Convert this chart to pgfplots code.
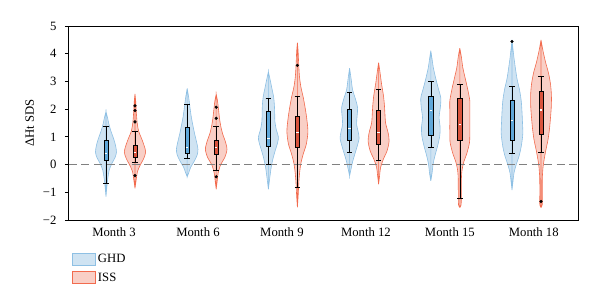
\documentclass[border=0pt]{standalone}
\usepackage{fontspec}
\setmainfont{Liberation Serif}
\usepackage{pgfplots}
\usepackage{pgfplotstable}
\pgfplotsset{compat=1.18}
\usepgfplotslibrary{fillbetween}

\definecolor{ghdfill}{HTML}{CFE3F2}
\definecolor{ghdedge}{HTML}{8EC0E4}
\definecolor{ghdbox}{HTML}{5FA7D9}
\definecolor{issfill}{HTML}{F9CFC6}
\definecolor{issedge}{HTML}{F26B4E}
\definecolor{issbox}{HTML}{D9533C}

% violin profiles: value y, half-width w (in px of the plot)
\pgfplotstableread{
y w
-1.16 0
-0.8 0.9
-0.5 1.8
-0.2 3.2
0.05 6
0.25 9
0.45 10.5
0.7 9.5
0.95 7.5
1.2 5
1.45 3
1.7 1.5
1.91 0
}\gA
\pgfplotstableread{
y w
-0.86 0
-0.55 1.2
-0.25 2.5
0.0 5.5
0.2 8.5
0.45 10.7
0.7 9
0.95 6.5
1.2 3.7
1.5 2.2
1.9 1.3
2.25 0.8
2.55 0
}\iA
\pgfplotstableread{
y w
-0.44 0
-0.3 1.5
-0.1 3.5
0.15 7.5
0.35 10
0.55 10.8
0.8 9.5
1.1 7.5
1.4 5.8
1.7 4.2
2.0 3
2.4 1.6
2.75 0
}\gB
\pgfplotstableread{
y w
-0.89 0
-0.6 1
-0.3 2
0.0 4.5
0.25 8.5
0.55 10.8
0.85 9
1.1 6.5
1.4 4.5
1.7 3.2
2.0 2.3
2.3 1.3
2.54 0
}\iB
\pgfplotstableread{
y w
-0.89 0
-0.5 1.3
-0.1 2.8
0.2 4.5
0.5 6.8
0.8 9.3
1.0 10
1.25 8
1.55 6.5
1.85 6.3
2.15 6
2.45 5.2
2.75 3.5
3.05 1.8
3.35 0
}\gC
\pgfplotstableread{
y w
-1.54 0
-1.1 0.8
-0.6 1.5
-0.2 2.5
0.1 3.8
0.4 6
0.75 9
1.2 10.5
1.7 9.2
2.1 7.5
2.45 5.7
2.8 3.5
3.2 2
3.7 1.2
4.1 0.7
4.4 0
}\iC
\pgfplotstableread{
y w
-0.41 0
-0.15 1.5
0.1 3
0.35 5
0.65 7.5
0.95 9.5
1.2 8.5
1.45 7
1.75 7.5
2.05 8
2.35 6
2.7 3
3.1 1.5
3.48 0
}\gD
\pgfplotstableread{
y w
-0.71 0
-0.4 1
-0.1 2
0.2 4.8
0.5 8.5
0.85 10.5
1.15 9.5
1.5 7
1.85 6.3
2.15 5.8
2.5 4.8
2.9 3
3.3 1.5
3.68 0
}\iD
\pgfplotstableread{
y w
-0.59 0
-0.3 1.3
0.0 2.2
0.3 4
0.7 7
1.05 9
1.35 9.3
1.7 8.3
2.05 9.5
2.4 10
2.75 7.5
3.1 5
3.5 2.5
3.8 1.3
4.11 0
}\gE
\pgfplotstableread{
y w
-1.54 0
-1.45 1.3
-1.0 1.5
-0.5 1.6
-0.2 2.2
0.1 4
0.4 7
0.8 9.7
1.2 10
1.6 10
2.0 10
2.3 10
2.7 8
3.1 5.5
3.5 3
3.9 1.5
4.2 0
}\iE
\pgfplotstableread{
y w
-0.92 0
-0.6 1
-0.3 2
0.0 4.2
0.3 7
0.65 9.2
1.1 10.8
1.5 10.5
1.9 10
2.3 9.2
2.7 7.5
3.1 5
3.5 3.3
3.9 1.8
4.5 0
}\gF
\pgfplotstableread{
y w
-1.54 0
-1.45 1.2
-1.0 1.2
-0.5 1.3
-0.1 2
0.2 3.2
0.5 4.7
0.9 7
1.3 8.5
1.7 9.5
2.1 10.3
2.5 10.4
2.9 9.5
3.3 7.5
3.7 4.5
4.1 2
4.5 0
}\iF

\newcommand{\ws}{0.012315}
% #1 id, #2 centre, #3 profile, #4 fill, #5 edge
\newcommand{\violin}[5]{%
  \addplot[draw=none, smooth, name path=R#1, forget plot]
    table[x expr=#2+\ws*\thisrow{w}, y=y]{#3};
  \addplot[draw=none, smooth, name path=L#1, forget plot]
    table[x expr=#2-\ws*\thisrow{w}, y=y]{#3};
  \addplot[fill=#4, draw=#5, line width=0.6pt, forget plot]
    fill between[of=R#1 and L#1];
}
% #1 position, #2 lower whisker, #3 Q1, #4 median, #5 Q3, #6 upper whisker, #7 colour
\newcommand{\bx}[7]{%
  \pgfmathsetmacro\boxL{#1-0.025}\pgfmathsetmacro\boxR{#1+0.025}%
  \pgfmathsetmacro\capL{#1-0.034}\pgfmathsetmacro\capR{#1+0.034}%
  \pgfmathsetmacro\medL{#1-0.016}\pgfmathsetmacro\medR{#1+0.016}%
  \addplot[forget plot, black, line width=0.6pt] coordinates {(#1,#2) (#1,#3)};
  \addplot[forget plot, black, line width=0.6pt] coordinates {(#1,#5) (#1,#6)};
  \addplot[forget plot, black, line width=0.6pt] coordinates {(\capL,#2) (\capR,#2)};
  \addplot[forget plot, black, line width=0.6pt] coordinates {(\capL,#6) (\capR,#6)};
  \addplot[forget plot, draw=black, fill=#7, line width=0.6pt]
    coordinates {(\boxL,#3) (\boxR,#3) (\boxR,#5) (\boxL,#5) (\boxL,#3)} -- cycle;
  \addplot[forget plot, white, line width=1.2pt] coordinates {(\medL,#4) (\medR,#4)};
}

\begin{document}
\begin{tikzpicture}
\begin{axis}[
  at={(0,0)}, anchor=south west,
  scale only axis, width=509pt, height=194pt,
  xmin=-0.634, xmax=5.634, ymin=-2, ymax=5,
  axis line style={black, line width=1pt},
  xtick={-0.08,0.954,1.988,3.022,4.056,5.09},
  xticklabels={Month 3,Month 6,Month 9,Month 12,Month 15,Month 18},
  xtick style={draw=none},
  ytick={-2,-1,0,1,2,3,4,5},
  yticklabels={−2,−1,0,1,2,3,4,5},
  ytick pos=left, tick align=outside, major tick length=4pt,
  ytick style={black, line width=0.8pt},
  tick label style={font=\fontsize{12.7}{15}\selectfont, black},
  yticklabel style={xshift=-5pt},
  ylabel={ΔHt SDS},
  ylabel style={font=\fontsize{12.7}{15}\selectfont, at={(axis description cs:-0.077,0.5)}, anchor=center},
  legend style={at={(axis description cs:0.0,-0.155)}, anchor=north west,
    draw=none, fill=none, font=\fontsize{12.7}{15}\selectfont, row sep=4.5pt},
  legend cell align=left,
  legend image code/.code={\draw[#1] (0pt,-6.2pt) rectangle (23pt,6.2pt);},
]
\addlegendimage{fill=ghdfill, draw=ghdedge, line width=0.8pt}
\addlegendentry{GHD}
\addlegendimage{fill=issfill, draw=issedge, line width=0.8pt}
\addlegendentry{ISS}

% reference line at zero
\addplot[forget plot, color=gray, line width=1.2pt, dash pattern=on 8pt off 4.5pt]
  coordinates {(-0.634,0) (5.634,0)};

\violin{a}{-0.1786}{\gA}{ghdfill}{ghdedge}
\violin{b}{0.1786}{\iA}{issfill}{issedge}
\violin{c}{0.8214}{\gB}{ghdfill}{ghdedge}
\violin{d}{1.1786}{\iB}{issfill}{issedge}
\violin{e}{1.8214}{\gC}{ghdfill}{ghdedge}
\violin{f}{2.1786}{\iC}{issfill}{issedge}
\violin{g}{2.8214}{\gD}{ghdfill}{ghdedge}
\violin{h}{3.1786}{\iD}{issfill}{issedge}
\violin{i}{3.8214}{\gE}{ghdfill}{ghdedge}
\violin{j}{4.1786}{\iE}{issfill}{issedge}
\violin{k}{4.8214}{\gF}{ghdfill}{ghdedge}
\violin{l}{5.1786}{\iF}{issfill}{issedge}

\bx{-0.1786}{-0.68}{0.17}{0.41}{0.86}{1.39}{ghdbox}
\bx{0.1786}{0.07}{0.27}{0.43}{0.71}{1.19}{issbox}
\bx{0.8214}{0.23}{0.41}{0.61}{1.35}{2.19}{ghdbox}
\bx{1.1786}{-0.19}{0.38}{0.61}{0.89}{1.39}{issbox}
\bx{1.8214}{0.0}{0.65}{0.95}{1.93}{2.39}{ghdbox}
\bx{2.1786}{-0.82}{0.61}{1.17}{1.75}{2.48}{issbox}
\bx{2.8214}{0.45}{0.86}{1.31}{2.0}{2.6}{ghdbox}
\bx{3.1786}{0.17}{0.74}{1.17}{1.95}{2.72}{issbox}
\bx{3.8214}{0.62}{1.04}{1.96}{2.48}{2.99}{ghdbox}
\bx{4.1786}{-1.2}{0.86}{1.45}{2.39}{2.91}{issbox}
\bx{4.8214}{0.41}{0.89}{1.59}{2.31}{2.84}{ghdbox}
\bx{5.1786}{0.43}{1.1}{1.97}{2.63}{3.2}{issbox}

% outliers
\addplot[forget plot, only marks, mark=*, mark size=1.4pt, black]
  coordinates {(0.1786,2.12) (0.1786,1.95) (0.1786,1.54) (0.1786,-0.40)
               (1.1786,2.07) (1.1786,1.67) (1.1786,-0.44)
               (2.1786,3.58) (4.8214,4.44) (5.1786,-1.33)};
\end{axis}
\path (-69pt,-86pt) rectangle (531pt,220pt);
\end{tikzpicture}
\end{document}
